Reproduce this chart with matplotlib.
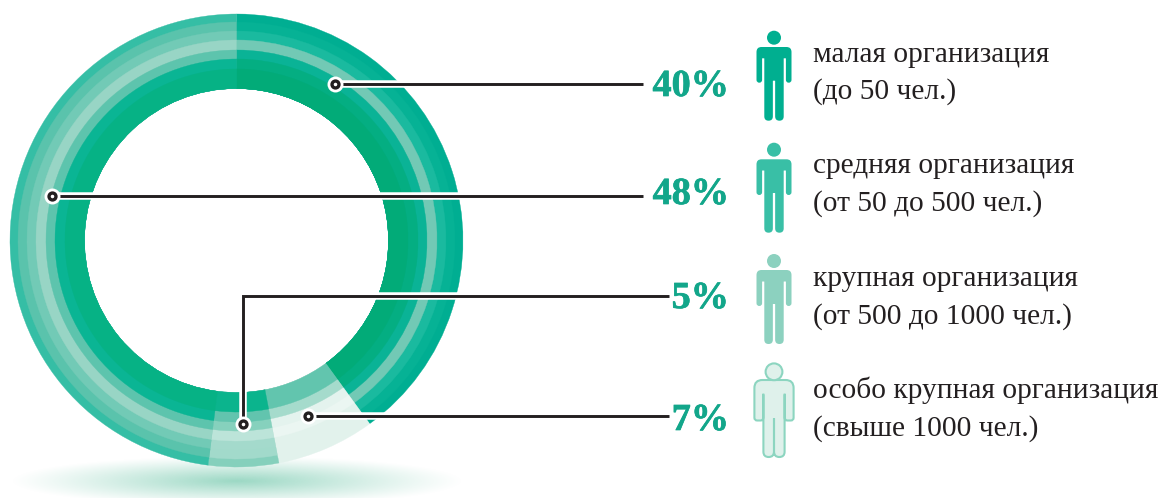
import numpy as np
import matplotlib
matplotlib.use('Agg')
import matplotlib.pyplot as plt
import matplotlib.patheffects as pe
from matplotlib.patches import Circle, PathPatch
from matplotlib.path import Path

# доли по часовой стрелке от верхней точки кольца
ring_order = ['малая', 'особо крупная', 'крупная', 'средняя']
ring_shares = [40, 7, 5, 48]

# цвета полос кольца, от внешней к внутренней
band_colors = [
    ['#00AE92', '#E2F2EC', '#85D0BC', '#35BEA5'],
    ['#06B295', '#E2F2EC', '#A2DACB', '#5AC3AC'],
    ['#1ABA9F', '#E2F2EC', '#A4DACC', '#72CAB6'],
    ['#72C9B5', '#EBF6F2', '#BCE4D9', '#98D5C5'],
    ['#0AB396', '#E4F3EE', '#86D1BD', '#5DC4AD'],
    ['#04AE82', '#A5DBCC', '#62C4AE', '#0AB594'],
    ['#02AB78', '#62C5AE', '#0BB48D', '#06B285'],
]
band_radii = [226.5, 218.5, 209.5, 200.5, 190.5, 181.5, 171.5]
inner_radius = 152

percent_labels = ['40%', '48%', '5%', '7%']
label_lines = [
    ['малая организация', '(до 50 чел.)'],
    ['средняя организация', '(от 50 до 500 чел.)'],
    ['крупная организация', '(от 500 до 1000 чел.)'],
    ['особо крупная организация', '(свыше 1000 чел.)'],
]

W, H = 1162, 498
CX, CY = 236.5, 240.5
TEXT_GREEN = '#12A68A'
LINE = '#231F20'


def rounded_path(points):
    # многоугольник со скруглёнными углами, точка = (x, y, радиус)
    verts, codes = [], []
    n = len(points)
    for i in range(n):
        p = np.array(points[i][:2], float)
        r = points[i][2]
        a = np.array(points[i - 1][:2], float)
        b = np.array(points[(i + 1) % n][:2], float)
        la, lb = np.linalg.norm(a - p), np.linalg.norm(b - p)
        start = p + (a - p) / la * min(r, la / 2)
        end = p + (b - p) / lb * min(r, lb / 2)
        verts.append(start)
        codes.append(Path.MOVETO if i == 0 else Path.LINETO)
        verts += [p, end]
        codes += [Path.CURVE3, Path.CURVE3]
    verts.append(verts[0])
    codes.append(Path.CLOSEPOLY)
    return Path(verts, codes)


def person(ax, cx, head_y, head_r, top, bottom, half, body, arm_in, armpit, arm_end,
           color, edge=None, gap=1.15, shoulder=5):
    # фигурка человека в пикселях рисунка
    leg_r = (body - gap) / 2
    right = [
        (gap, arm_end - 2, 0.3), (gap, bottom, leg_r), (body, bottom, leg_r),
        (body, armpit, 0.3), (arm_in, armpit, 0.3), (arm_in, arm_end, 2.8),
        (half, arm_end, 2.8), (half, top, shoulder), (0.01, top, 0.01),
    ]
    left = [(-x, y, r) for x, y, r in reversed(right)]
    pts = [(cx + x, y, r) for x, y, r in right + left]
    lw = 1.5 if edge else 0
    ax.add_patch(PathPatch(rounded_path(pts), facecolor=color,
                           edgecolor=edge or 'none', lw=lw, zorder=4))
    ax.add_patch(Circle((cx, head_y), head_r, facecolor=color,
                        edgecolor=edge or 'none', lw=lw, zorder=5))


def leader(ax, xs, ys):
    ax.plot(xs, ys, color='white', lw=5.4, solid_capstyle='butt', solid_joinstyle='miter', zorder=6)
    ax.plot(xs, ys, color=LINE, lw=2.1, solid_capstyle='butt', solid_joinstyle='miter', zorder=7)
    ax.plot(xs[0], ys[0], 'o', ms=11.5, mfc='white', mec='white', mew=0, zorder=8)
    ax.plot(xs[0], ys[0], 'o', ms=5, mfc='white', mec=LINE, mew=2.4, zorder=9)


plt.rcParams['font.family'] = ['Liberation Serif', 'DejaVu Serif']

fig = plt.figure(figsize=(W / 100, H / 100), dpi=100)
ax = fig.add_axes([0, 0, 1, 1])

# тень под кольцом
yy, xx = np.mgrid[450:498:100j, 0:480:500j]
d = np.sqrt(((xx - 237) / 226) ** 2 + ((yy - 481) / 25) ** 2)
shadow = np.zeros(d.shape + (4,))
shadow[..., :3] = matplotlib.colors.to_rgb('#9BD8C4')
shadow[..., 3] = np.clip(1 - d, 0, 1) ** 1.1
ax.imshow(shadow, extent=(0, 480, 498, 450), aspect='auto', zorder=1, interpolation='bilinear')

# кольцо: полосы рисуются снаружи внутрь, каждая перекрывает предыдущую
for radius, colors in zip(band_radii, band_colors):
    wedges, _ = ax.pie(ring_shares, colors=colors, radius=radius, center=(CX, CY),
                       startangle=-90, counterclock=True,
                       wedgeprops=dict(width=radius - inner_radius))
    for w in wedges:
        w.set_edgecolor(w.get_facecolor())
        w.set_linewidth(0.25)
        w.set_zorder(2)

leader(ax, [335, 643], [84, 84])
leader(ax, [52, 643], [196, 196])
leader(ax, [243, 243, 669], [424, 296, 296])
leader(ax, [308, 669], [416, 416])

percent_base = [96, 204, 308, 430]
for txt, y in zip(percent_labels, percent_base):
    ax.text(729, y, txt, ha='right', va='baseline', fontsize=27.5, fontweight='bold', color=TEXT_GREEN,
            path_effects=[pe.withStroke(linewidth=0.5, foreground=TEXT_GREEN)])

line_base = [(62, 99), (173, 211), (286, 324), (398, 436)]
for lines, ys in zip(label_lines, line_base):
    for s, y in zip(lines, ys):
        ax.text(813, y, s, ha='left', va='baseline', fontsize=21.2, color='#231F20')

person(ax, 774, 37.7, 7, 47, 120.7, 17.5, 9.7, 11.9, 58.3, 82.7, '#00AF90')
person(ax, 774, 149.7, 7, 159.3, 232.7, 17.5, 9.7, 11.9, 170.5, 195, '#39BFA6')
person(ax, 774, 261, 7, 270, 344, 17.5, 9.7, 11.9, 281.5, 306, '#8CD1BF')
person(ax, 774, 371.8, 8.4, 380, 457, 19.6, 10.6, 10.7, 394, 420.5, '#DFF1EB',
       edge='#8CD5C0', gap=0.05, shoulder=8)

ax.set_xlim(0, W)
ax.set_ylim(H, 0)
ax.set_aspect('auto')
ax.axis('off')

fig.savefig('out.png', dpi=100)
plt.close(fig)
